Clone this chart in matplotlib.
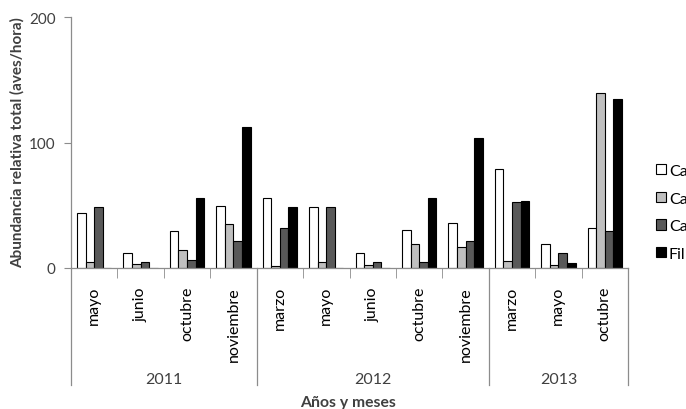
import numpy as np
import matplotlib
matplotlib.use("Agg")
import matplotlib.pyplot as plt
from matplotlib.patches import Patch

plt.rcParams["font.family"] = ["Lato", "DejaVu Sans"]

MONTHS = ["mayo", "junio", "octubre", "noviembre",
          "marzo", "mayo", "junio", "octubre", "noviembre",
          "marzo", "mayo", "octubre"]
YEARS = ["2011", "2012", "2013"]
YEAR_SPANS = [(0, 4), (4, 9), (9, 12)]

SERIES = ["CaA", "CaB", "CaC", "Fil"]
CAA = [44, 12, 29.6, 49.3, 55.7, 48.5, 12, 30.4, 35.7, 78.9, 19.4, 32]
CAB = [5, 3.2, 14.4, 35, 1.3, 5, 2.7, 19.4, 16.8, 5.9, 2.7, 139.4]
CAC = [49, 5, 6, 21.6, 32.2, 48.5, 5, 5, 21.6, 52.2, 12.2, 29.6]
FIL = [0, 0, 55.7, 112, 48.5, 0, 0, 55.7, 103.7, 53, 4.3, 134.4]

COLORS = ["#ffffff", "#bfbfbf", "#595959", "#000000"]
AXIS_GRAY = "#8c8c8c"
TEXT = "#404040"

W, H = 686, 410
fig = plt.figure(figsize=(W / 100, H / 100), dpi=100)
x0, x1, y0, y1 = 71, 628, 269, 18
ax = fig.add_axes([x0 / W, 1 - y0 / H, (x1 - x0) / W, (y0 - y1) / H])

n = len(MONTHS)
centers = np.arange(n) + 0.5
bw = 0.185
for k, (vals, col) in enumerate(zip([CAA, CAB, CAC, FIL], COLORS)):
    xs = centers + (k - 1.5) * bw
    ax.bar(xs, vals, width=bw, color=col, edgecolor="black", linewidth=0.8,
           label=SERIES[k])

ax.set_xlim(0, n)
ax.set_ylim(0, 200)
ax.set_yticks([0, 100, 200])
ax.tick_params(axis="y", length=5, color=AXIS_GRAY, labelcolor=TEXT,
               labelsize=11, pad=6)

ax.set_xticks(centers)
ax.set_xticklabels(MONTHS, rotation=90, fontsize=11.5, color="black")
ax.set_xticks(np.arange(n + 1), minor=True)
ax.tick_params(axis="x", which="major", length=0, pad=13)
ax.tick_params(axis="x", which="minor", length=7, color=AXIS_GRAY)

for side in ["top", "right"]:
    ax.spines[side].set_visible(False)
for side in ["left", "bottom"]:
    ax.spines[side].set_color(AXIS_GRAY)
    ax.spines[side].set_linewidth(0.9)

# year group separators and labels below the month labels
trans = ax.get_xaxis_transform()
sep_bottom = (y0 - 386) / (y0 - y1)
for b in [0, 4, 9, 12]:
    ax.plot([b, b], [0, sep_bottom], transform=trans, color=AXIS_GRAY,
            lw=0.9, clip_on=False)
year_y = (y0 - 380) / (y0 - y1)
for yr, (a, b) in zip(YEARS, YEAR_SPANS):
    ax.text((a + b) / 2, year_y, yr, transform=trans, ha="center",
            va="center", fontsize=11.5, color=TEXT)

fig.text(348 / W, 1 - 403 / H, "Años y meses", ha="center", va="center",
         fontsize=11.3, fontweight="bold", color=TEXT)
fig.text(17 / W, 1 - 143 / H, "Abundancia relativa total (aves/hora)",
         rotation=90, ha="center", va="center", fontsize=11,
         fontweight="bold", color=TEXT)

# legend sits against the right edge, as in the source layout
handles = [Patch(facecolor=c, edgecolor="black", linewidth=0.8) for c in COLORS]
fig.legend(handles, SERIES, loc="upper left",
           bbox_to_anchor=(648 / W, 1 - 157 / H), frameon=False,
           fontsize=11.5, handlelength=0.6, handleheight=0.6,
           handletextpad=0.2, labelspacing=0.85, borderpad=0)

fig.savefig("out.png", dpi=100, facecolor="white")
